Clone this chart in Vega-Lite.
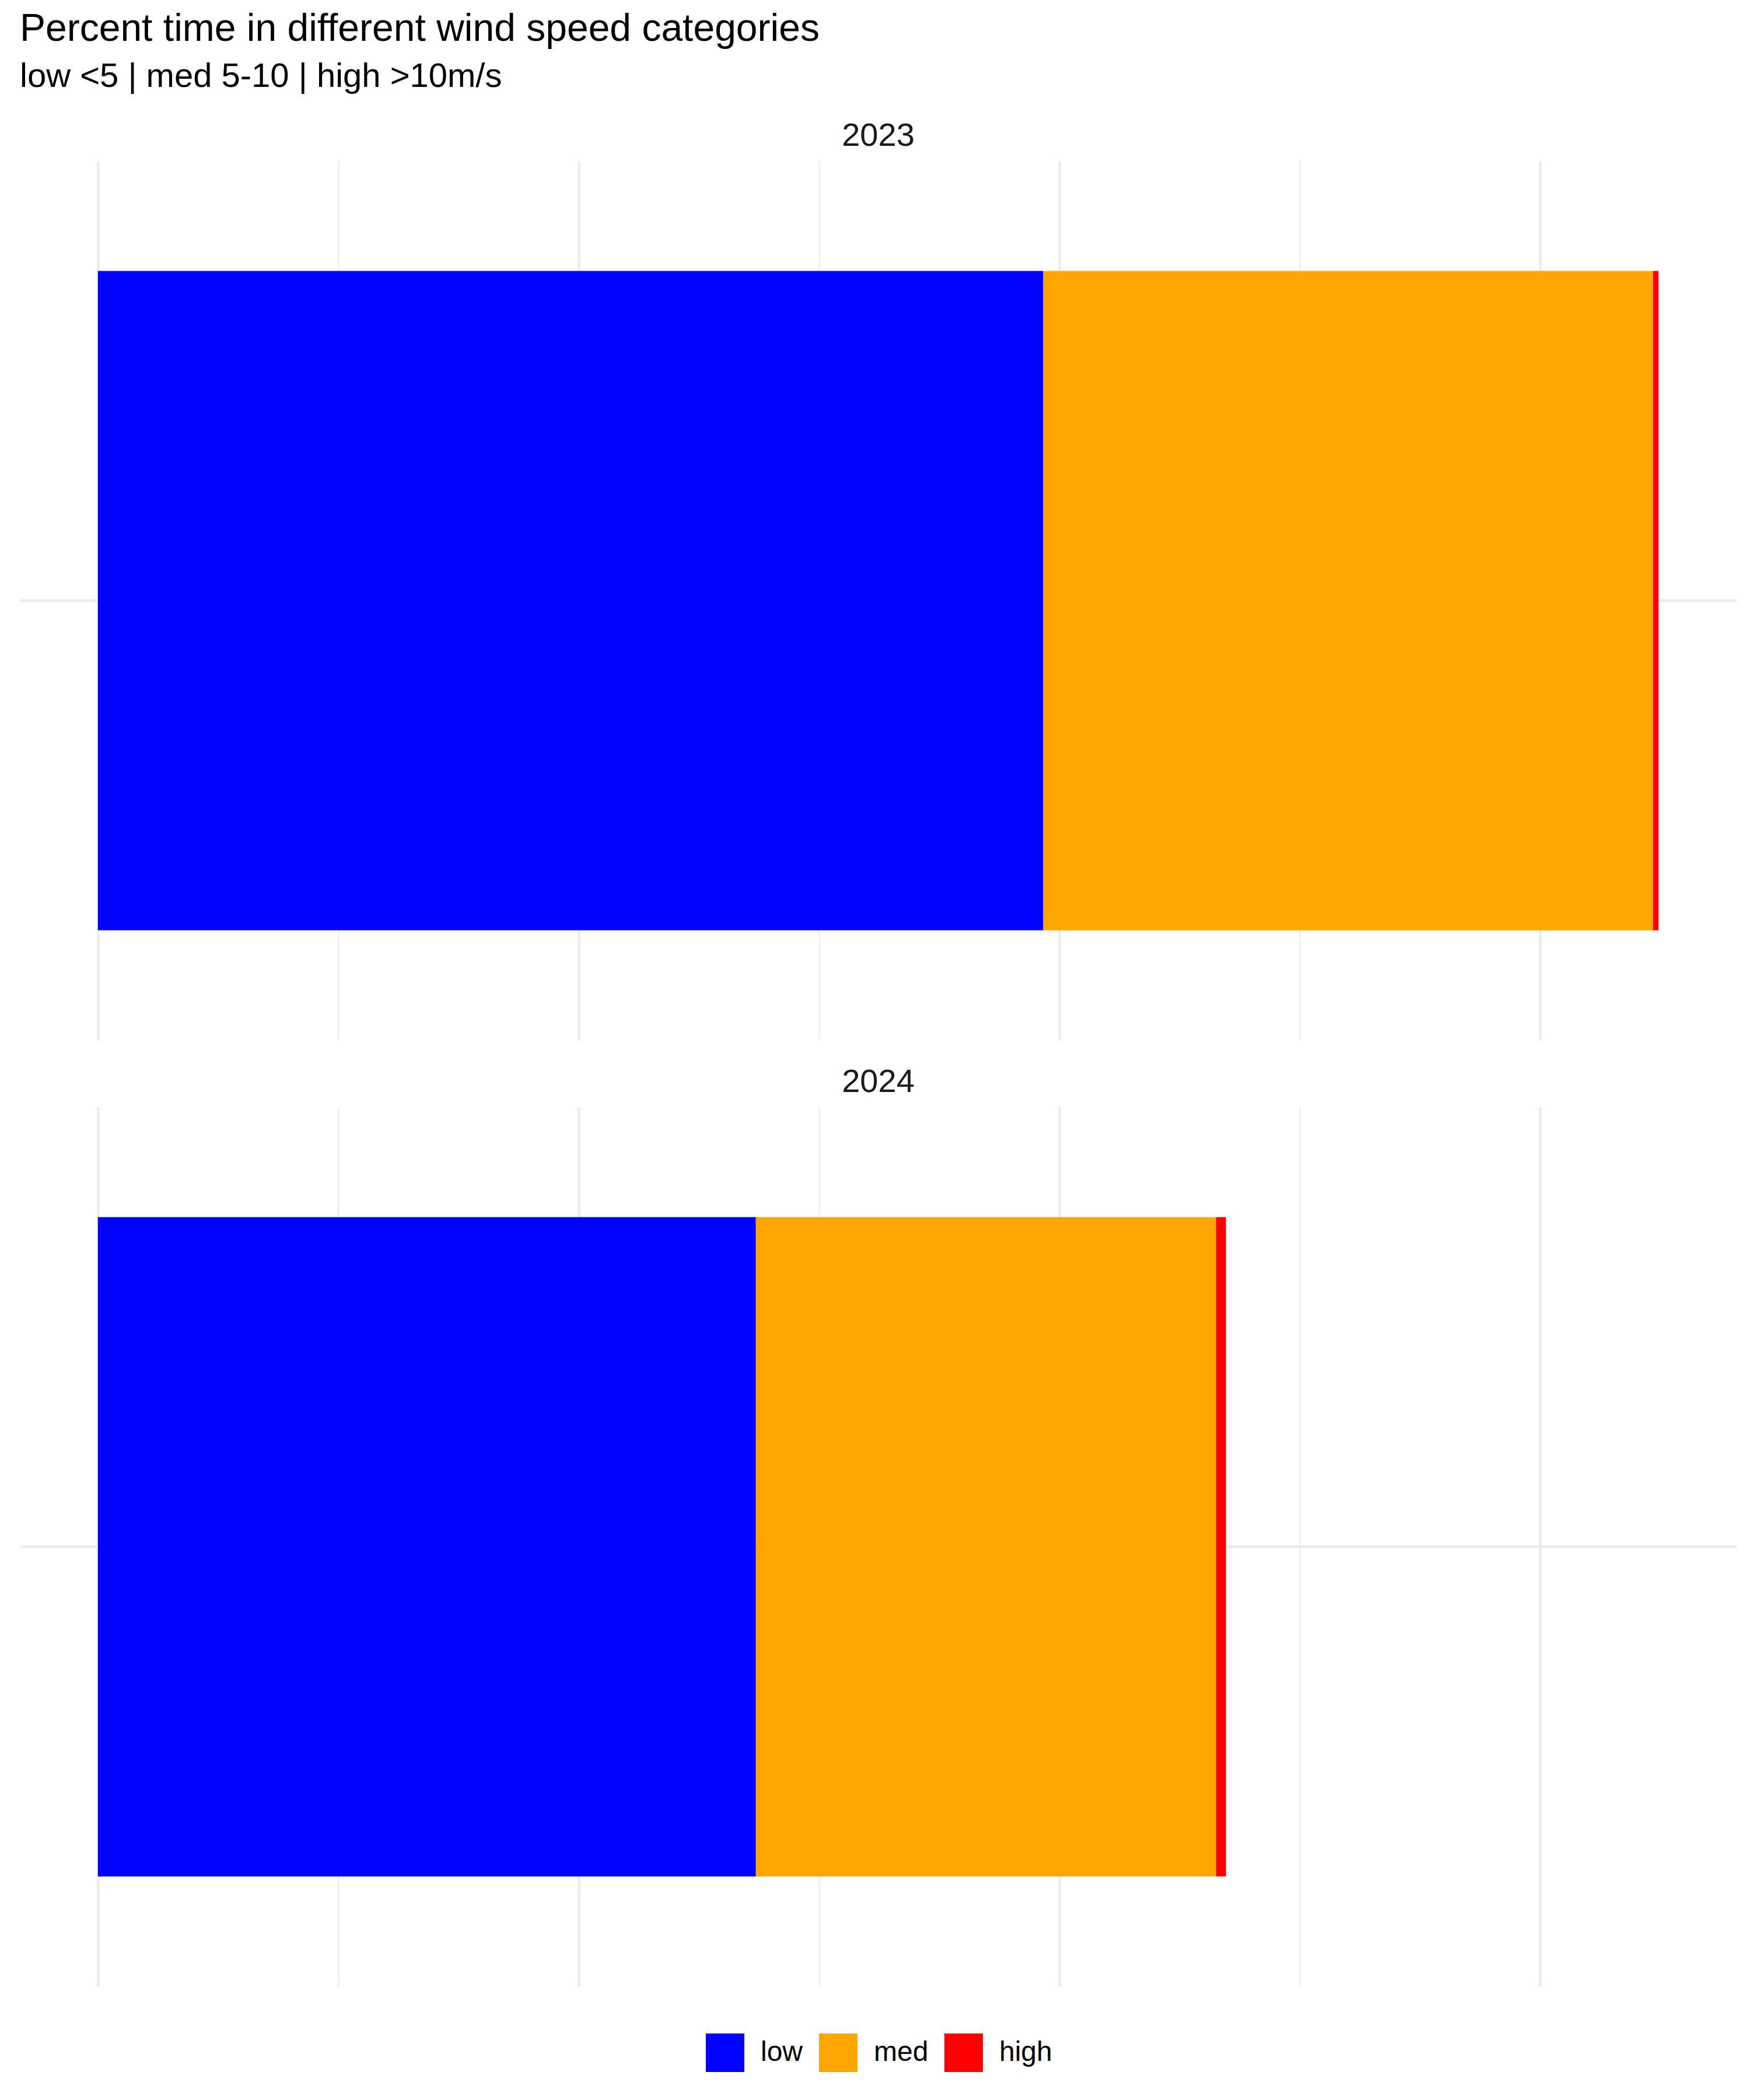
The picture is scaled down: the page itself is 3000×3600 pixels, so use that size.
{
  "$schema": "https://vega.github.io/schema/vega-lite/v6.json",
  "background": "white",
  "padding": {"left": 34, "top": 17, "right": 23, "bottom": 20},
  "title": {
    "text": "Percent time in different wind speed categories",
    "subtitle": "low <5 | med 5-10 | high >10m/s",
    "anchor": "start",
    "font": "Liberation Sans",
    "fontSize": 66,
    "fontWeight": "normal",
    "color": "#000000",
    "subtitleFont": "Liberation Sans",
    "subtitleFontSize": 58,
    "subtitleColor": "#000000",
    "subtitlePadding": 19,
    "offset": 43
  },
  "data": {
    "values": [
      {"year": "2023", "category": "low", "value": 1967},
      {"year": "2023", "category": "med", "value": 1268.6},
      {"year": "2023", "category": "high", "value": 11.5},
      {"year": "2024", "category": "low", "value": 1369},
      {"year": "2024", "category": "med", "value": 957.5},
      {"year": "2024", "category": "high", "value": 20.6}
    ]
  },
  "transform": [
    {"calculate": "indexof(['low','med','high'], datum.category)", "as": "ord"}
  ],
  "facet": {
    "field": "year",
    "type": "nominal",
    "header": {
      "title": null,
      "labelFont": "Liberation Sans",
      "labelFontSize": 56,
      "labelColor": "#1A1A1A",
      "labelBaseline": "alphabetic",
      "labelPadding": -30
    }
  },
  "columns": 1,
  "spacing": 44,
  "resolve": {"scale": {"y": "independent"}},
  "spec": {
    "width": 2943,
    "height": 1507,
    "mark": {"type": "bar"},
    "encoding": {
      "x": {
        "field": "value",
        "type": "quantitative",
        "stack": "zero",
        "scale": {"domain": [-162.4, 3409.5], "nice": false, "zero": false},
        "axis": {
          "title": null,
          "labels": false,
          "ticks": false,
          "domain": false,
          "values": [0, 500, 1000, 1500, 2000, 2500, 3000],
          "grid": true,
          "gridColor": "#EBEBEB",
          "gridWidth": {"condition": {"test": "datum.value % 1000 === 0", "value": 4.3}, "value": 2.2}
        }
      },
      "y": {
        "field": "year",
        "type": "nominal",
        "scale": {"paddingInner": 0.1, "paddingOuter": 0.15},
        "axis": {
          "title": null,
          "labels": false,
          "ticks": false,
          "domain": false,
          "grid": true,
          "gridColor": "#EBEBEB",
          "gridWidth": 4.3
        }
      },
      "color": {
        "field": "category",
        "type": "nominal",
        "scale": {"domain": ["low", "med", "high"], "range": ["#0000FF", "#FFA500", "#FF0000"]},
        "legend": {
          "title": null,
          "orient": "none",
          "direction": "horizontal",
          "legendX": 1176,
          "legendY": 3210,
          "symbolType": "square",
          "symbolSize": 4356,
          "symbolStrokeWidth": 0,
          "symbolOpacity": 1,
          "labelFont": "Liberation Sans",
          "labelFontSize": 48,
          "labelColor": "#000000",
          "labelOffset": 28,
          "columnPadding": 27
        }
      },
      "order": {"field": "ord", "type": "quantitative"}
    }
  },
  "config": {
    "view": {"stroke": null},
    "axis": {"gridCap": "butt"}
  }
}
